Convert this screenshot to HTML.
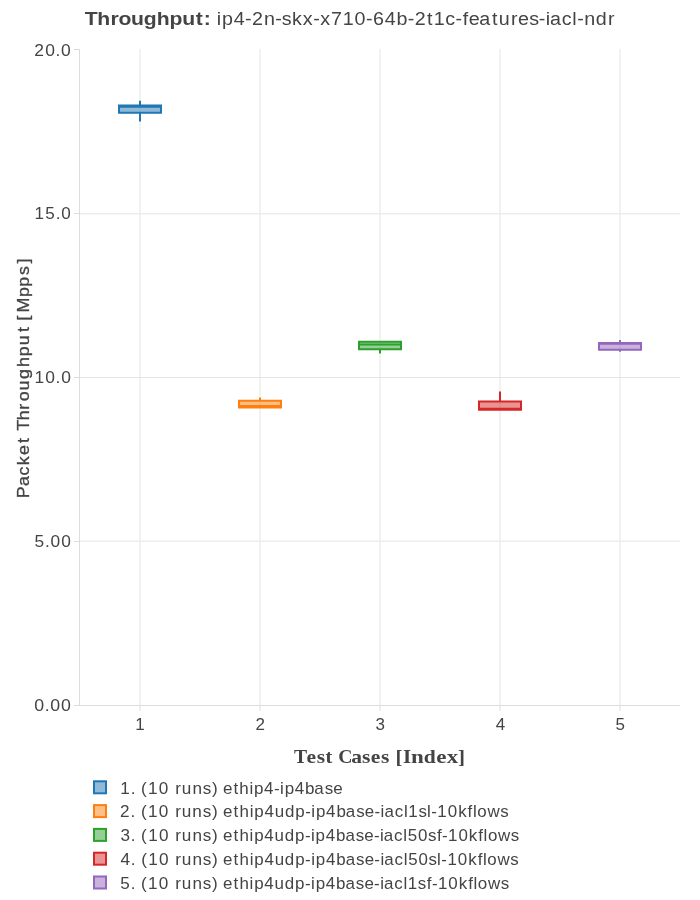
<!DOCTYPE html>
<html><head><meta charset="utf-8">
<style>
html,body{margin:0;padding:0;background:#fff;width:700px;height:900px;overflow:hidden}
svg{display:block;will-change:transform}
text{font-family:"Liberation Sans",sans-serif;fill:#444}
</style></head>
<body>
<svg width="700" height="900" viewBox="0 0 700 900">
<rect x="0" y="0" width="700" height="900" fill="#fff"/>
<g stroke="#e5e5e5" stroke-width="1" fill="none">
<path d="M140,49V705M260,49V705M380,49V705M500,49V705M620,49V705"/>
<path d="M80,213.8H680M80,377.5H680M80,541.2H680"/>
</g>
<g stroke="#dcdcdc" stroke-width="1" fill="none">
<path d="M79.5,49V706M74,705.5H680"/>
<path d="M74,49.5H80M74,213.5H80M74,377.5H80M74,541.5H80"/>
<path d="M140,705V711M260,705V711M380,705V711M500,705V711M620,705V711"/>
</g>
<g stroke-width="2" stroke-linecap="butt">
<path d="M119,106.8H161M119,105.4H161V112.8H119Z" fill="rgba(31,119,180,0.5)" stroke="#1f77b4"/>
<path d="M140,105.4V100.8M140,112.8V121.4" stroke="#1f77b4"/>
<path d="M239,406H281M239,400.8H281V407.4H239Z" fill="rgba(255,127,14,0.5)" stroke="#ff7f0e"/>
<path d="M260,400.8V397.6" stroke="#ff7f0e"/>
<path d="M359,344.6H401M359,341.8H401V349.2H359Z" fill="rgba(44,160,44,0.5)" stroke="#2ca02c"/>
<path d="M380,349.2V353.6" stroke="#2ca02c"/>
<path d="M479,408.8H521M479,401.4H521V409.8H479Z" fill="rgba(214,39,40,0.5)" stroke="#d62728"/>
<path d="M500,401.4V391.4" stroke="#d62728"/>
<path d="M599,343.8H641M599,343H641V349.8H599Z" fill="rgba(148,103,189,0.5)" stroke="#9467bd"/>
<path d="M620,343V340M620,349.8V351.8" stroke="#9467bd"/>
</g>
<g stroke-width="2">
<rect x="94" y="781.3" width="12" height="12" fill="rgba(31,119,180,0.5)" stroke="#1f77b4"/>
<rect x="94" y="805.1" width="12" height="12" fill="rgba(255,127,14,0.5)" stroke="#ff7f0e"/>
<rect x="94" y="828.9" width="12" height="12" fill="rgba(44,160,44,0.5)" stroke="#2ca02c"/>
<rect x="94" y="852.7" width="12" height="12" fill="rgba(214,39,40,0.5)" stroke="#d62728"/>
<rect x="94" y="876.5" width="12" height="12" fill="rgba(148,103,189,0.5)" stroke="#9467bd"/>
</g>
<text transform="scale(1.1129,1)" y="25" font-size="19"><tspan font-weight="bold" x="76.07 87.29 99.3 106.54 117.8 129.24 140.79 152.4 163.82 175.97 183.13">Throughput:</tspan></text>
<text transform="scale(1.0366,1)" y="25" font-size="19"><tspan x="209.2 214.25 225.46 236.47 242.99 254.58 265.52 271.92 281.72 291.98 302.09 308.95 319.36 330.63 342.06 353.07 359.82 371.16 382.59 393.47 400 411.99 418.45 429.44 439.35 446.45 452.23 462.46 474.68 481.19 492.99 499.71 510.46 519.77 526.52 530.6 541.95 552.17 556.81 563.59 574.75 586.62">ip4-2n-skx-x710-64b-2t1c-features-iacl-ndr</tspan></text>
<text transform="scale(1.0080,1)" y="794" font-size="17"><tspan x="119.28 129.66 139.95 146.94 157.61 173.84 180.27 190.89 201.05 210.36">1.(10runs)</tspan></text>
<text transform="scale(1.0007,1)" y="794" font-size="17"><tspan x="222.88 233.25 239.16 249.3 253.87 263.95 273.84 279.91 284.47 294.56 304.85 314.14 324.42 332.97">ethip4-ip4base</tspan></text>
<text transform="scale(1.0100,1)" y="817" font-size="17"><tspan x="118.82 129.33 139.61 146.58 157.24 173.46 179.88 190.48 200.64 209.94">2.(10runs)</tspan></text>
<text transform="scale(0.9954,1)" y="817" font-size="17"><tspan x="224.14 234.61 240.62 250.85 255.51 265.72 275.99 286.22 296.72 306.59 312.72 317.38 327.59 338.01 347.42 357.82 366.48 376.26 382.39 386.16 396.49 405.76 410.24 420.31 429.04 433.28 439.39 449.8 460.27 469.79 475.16 479.55 489.72 502.6">ethip4udp-ip4base-iacl1sl-10kflows</tspan></text>
<text transform="scale(1.0079,1)" y="841" font-size="17"><tspan x="119.47 129.74 140.02 147 157.66 173.89 180.31 190.92 201.08 210.39">3.(10runs)</tspan></text>
<text transform="scale(0.9970,1)" y="841" font-size="17"><tspan x="223.76 234.19 240.16 250.35 254.98 265.13 275.36 285.54 295.98 305.82 311.92 316.55 326.7 337.07 346.43 356.79 365.4 375.15 381.25 384.99 395.27 404.5 408.98 419.31 429.25 438.28 443.36 449.42 459.78 470.2 479.69 485.04 489.39 499.51 512.33">ethip4udp-ip4base-iacl50sf-10kflows</tspan></text>
<text transform="scale(1.0130,1)" y="865" font-size="17"><tspan x="118.87 129.12 139.34 146.27 156.87 173.02 179.39 189.95 200.05 209.32">4.(10runs)</tspan></text>
<text transform="scale(0.9941,1)" y="865" font-size="17"><tspan x="224.43 234.89 240.91 251.14 255.8 266.01 276.29 286.52 297.03 306.9 313.03 317.7 327.9 338.33 347.74 358.14 366.8 376.59 382.72 386.49 396.83 406.1 410.61 421 430.99 439.72 443.96 450.06 460.48 470.95 480.48 485.85 490.24 500.42 513.3">ethip4udp-ip4base-iacl50sl-10kflows</tspan></text>
<text transform="scale(1.0068,1)" y="889" font-size="17"><tspan x="119.4 129.78 140.09 147.09 157.77 174.03 180.48 191.11 201.29 210.62">5.(10runs)</tspan></text>
<text transform="scale(0.9983,1)" y="889" font-size="17"><tspan x="223.45 233.87 239.84 250.03 254.65 264.8 275.02 285.19 295.64 305.47 311.57 316.19 326.34 336.7 346.06 356.41 365.02 374.76 380.86 384.59 394.87 404.1 408.55 418.57 427.59 432.67 438.73 449.08 459.5 468.98 474.33 478.67 488.79 501.6">ethip4udp-ip4base-iacl1sf-10kflows</tspan></text>
<text transform="scale(1.0984,1)" y="763" font-size="17"><tspan font-size="17.9" font-weight="bold" style="font-family:'Liberation Serif',serif" x="267.76">T</tspan><tspan font-size="19.6" font-weight="bold" style="font-family:'Liberation Serif',serif" x="279.12 288.3">es</tspan><tspan font-size="18.4" font-weight="bold" style="font-family:'Liberation Serif',serif" x="296.44">t</tspan></text>
<text transform="scale(1.1021,1)" y="763" font-size="17"><tspan font-size="17.9" font-weight="bold" style="font-family:'Liberation Serif',serif" x="306.88">C</tspan><tspan font-size="19.6" font-weight="bold" style="font-family:'Liberation Serif',serif" x="318.61 328.39 336.41 345.64">ases</tspan></text>
<text transform="scale(1.1747,1)" y="763" font-size="17"><tspan font-size="17.9" font-weight="bold" style="font-family:'Liberation Serif',serif" x="336.7 343.12">[I</tspan><tspan font-size="19.6" font-weight="bold" style="font-family:'Liberation Serif',serif" x="349.98">n</tspan><tspan font-size="18.4" font-weight="bold" style="font-family:'Liberation Serif',serif" x="360.78">d</tspan><tspan font-size="19.6" font-weight="bold" style="font-family:'Liberation Serif',serif" x="371.48 380.24">ex</tspan><tspan font-size="17.9" font-weight="bold" style="font-family:'Liberation Serif',serif" x="389.97">]</tspan></text>
<text transform="scale(1.0274,1)" y="56" font-size="17"><tspan x="33.4 43.97 54.1 59.5">20.0</tspan></text>
<text transform="scale(1.0068,1)" y="219" font-size="17"><tspan x="34.3 44.89 55.25 60.81">15.0</tspan></text>
<text transform="scale(1.0256,1)" y="383" font-size="17"><tspan x="33.59 44.05 54.19 59.61">10.0</tspan></text>
<text transform="scale(1.0195,1)" y="547" font-size="17"><tspan x="33.88 44.12 49.57 60">5.00</tspan></text>
<text transform="scale(1.0440,1)" y="711" font-size="17"><tspan x="32.86 42.9 48.22 58.46">0.00</tspan></text>
<text transform="scale(1.0000,1)" y="730" font-size="17"><tspan x="135.34">1</tspan></text>
<text transform="scale(1.0000,1)" y="730" font-size="17"><tspan x="255.57">2</tspan></text>
<text transform="scale(1.0000,1)" y="730" font-size="17"><tspan x="375.62">3</tspan></text>
<text transform="scale(1.0000,1)" y="730" font-size="17"><tspan x="495.63">4</tspan></text>
<text transform="scale(1.0000,1)" y="730" font-size="17"><tspan x="615.59">5</tspan></text>
<text transform="translate(29,497.5) rotate(-90) scale(1.0500,1)" y="0" font-size="17" stroke="#444" stroke-width="0.3"><tspan x="-0.68 10.91 21.04 30.69 40.53 51.86 63.48 73.62 83.6 91.75 101.95 112.89 124.28 134.51 144.9 157.57 168.53 176.25 190.89 200.61 212.01 222.94">PacketThroughput[Mpps]</tspan></text>
</svg>
</body></html>
